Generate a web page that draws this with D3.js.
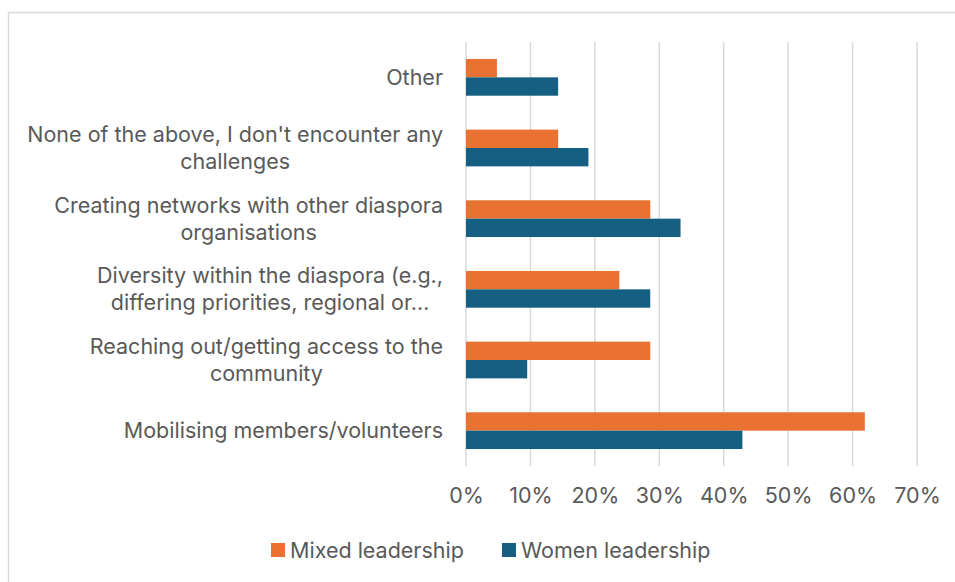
<!DOCTYPE html>
<html>
<head>
<meta charset="utf-8">
<script src="https://cdn.jsdelivr.net/npm/d3@7"></script>
<style>
  html, body { margin: 0; padding: 0; background: #fff; }
  svg { display: block; }
  text { font-family: Inter, "Open Sans", sans-serif; fill: #595959; }
</style>
</head>
<body>
<svg id="chart" width="955" height="582"></svg>
<script>
// Challenges faced, by leadership type (share of respondents)
const categories = [
  ["Other"],
  ["None of the above, I don't encounter any", "challenges"],
  ["Creating networks with other diaspora", "organisations"],
  ["Diversity within the diaspora (e.g.,", "differing priorities, regional or\u2026"],
  ["Reaching out/getting access to the", "community"],
  ["Mobilising members/volunteers"]
];
const seriesNames = ["Mixed leadership", "Women leadership"];
const mixedValues = [0.048, 0.143, 0.286, 0.238, 0.286, 0.619];
const womenValues = [0.143, 0.190, 0.333, 0.286, 0.095, 0.429];
const tickValues = [0, 0.1, 0.2, 0.3, 0.4, 0.5, 0.6, 0.7];
const colors = ["#E97132", "#156082"];

const svg = d3.select("#chart");
const fontSize = 21.5;

// outer frame (only top/left edges fall inside the view)
svg.append("rect")
  .attr("x", 8.5).attr("y", 12.5)
  .attr("width", 1200).attr("height", 1200)
  .attr("fill", "none").attr("stroke", "#D9D9D9").attr("stroke-width", 1.5);

const plot = { left: 466, right: 917, top: 42, bottom: 466 };

const x = d3.scaleLinear().domain([0, 0.7]).range([plot.left, plot.right]);
const y = d3.scaleBand().domain(d3.range(categories.length))
  .range([plot.top, plot.bottom]).padding(0);
const barH = y.bandwidth() * 0.26;

// vertical gridlines
svg.append("g")
  .selectAll("line").data(tickValues).join("line")
  .attr("x1", d => x(d)).attr("x2", d => x(d))
  .attr("y1", plot.top).attr("y2", plot.bottom)
  .attr("stroke", "#D9D9D9").attr("stroke-width", 1.5);

// bars
const rows = categories.map((c, i) => ({ i, vals: [mixedValues[i], womenValues[i]] }));
const g = svg.append("g");
rows.forEach(r => {
  const cy = y(r.i) + y.bandwidth() / 2;
  r.vals.forEach((v, s) => {
    g.append("rect")
      .attr("x", x(0))
      .attr("y", cy - barH + s * barH)
      .attr("width", x(v) - x(0))
      .attr("height", barH)
      .attr("fill", colors[s]);
  });
});

// x axis tick labels
const xAxis = d3.axisBottom(x).tickValues(tickValues)
  .tickFormat(d3.format(".0%")).tickSize(0).tickPadding(0);
const ax = svg.append("g").attr("transform", `translate(0,${plot.bottom})`).call(xAxis);
ax.select(".domain").remove();
ax.selectAll("text")
  .attr("dy", null).attr("y", 37)
  .style("font-family", "Inter, \"Open Sans\", sans-serif")
  .style("font-size", fontSize + "px").attr("fill", "#595959");

// category labels: each line its own text, lines centred on the widest one,
// block right-aligned against the axis
const lineH = 27;
const rightEdge = 443;
const labels = svg.append("g");
categories.forEach((lines, i) => {
  const cy = y(i) + y.bandwidth() / 2;
  const n = lines.length;
  const texts = lines.map((ln, k) =>
    labels.append("text")
      .style("font-size", fontSize + "px")
      .attr("text-anchor", "middle")
      .attr("y", cy + (k - (n - 1) / 2) * lineH)
      .attr("dy", "0.35em")
      .text(ln));
  const maxW = d3.max(texts, t => t.node().getComputedTextLength());
  texts.forEach(t => t.attr("x", rightEdge - maxW / 2));
});

// legend
const legend = svg.append("g");
const legendItems = [{ x: 271, name: seriesNames[0], c: colors[0] },
                     { x: 502, name: seriesNames[1], c: colors[1] }];
legendItems.forEach(d => {
  legend.append("rect").attr("x", d.x).attr("y", 543).attr("width", 14).attr("height", 14).attr("fill", d.c);
  legend.append("text").attr("x", d.x + 19).attr("y", 550).attr("dy", "0.35em")
    .style("font-size", fontSize + "px").text(d.name);
});
</script>
</body>
</html>
